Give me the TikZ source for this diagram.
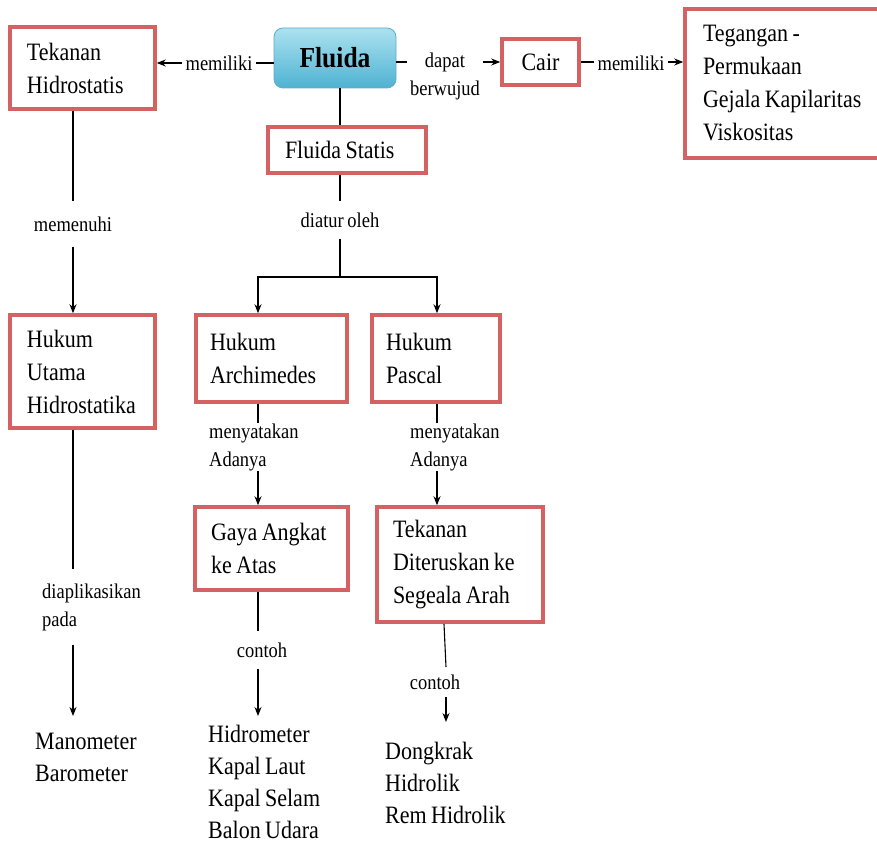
\documentclass[tikz,border=0pt]{standalone}
\usepackage{fontspec}
\setmainfont[FakeStretch=0.88,WordSpace=0.8]{Liberation Serif}
\usetikzlibrary{arrows.meta}
\definecolor{boxred}{RGB}{212,98,98}
\definecolor{fltop}{RGB}{172,226,240}
\definecolor{flbot}{RGB}{78,178,210}
\definecolor{flborder}{RGB}{96,172,202}
\begin{document}
\begin{tikzpicture}[x=1pt,y=-1pt,
  rbox/.style={draw=boxred, line width=3.5pt, fill=white, inner xsep=0pt, inner ysep=0pt, align=flush left, font=\fontsize{25}{33}\selectfont},
  plaintext/.style={inner sep=0pt, align=left, font=\fontsize{25}{32}\selectfont},
  lab/.style={inner xsep=3pt, font=\fontsize{21}{28}\selectfont},
  conn/.style={line width=1.1pt, draw=black},
  arr/.style={conn, -{Stealth[length=9pt,width=7pt]}},
]
\useasboundingbox (0,0) rectangle (877,845);
\begin{scope}
\clip (0,0) rectangle (877,845);

% ---------- boxes ----------
\node[rbox, minimum width=145pt, minimum height=82pt, text width=111pt] (tek) at (82.5,68) {Tekanan\\Hidrostatis};
\node[draw=flborder, line width=0.8pt, rounded corners=9pt, top color=fltop, bottom color=flbot,
      minimum width=122pt, minimum height=60pt, font=\fontsize{29}{33}\selectfont\bfseries] (flu) at (335,58) {Fluida};
\node[rbox, minimum width=77pt, minimum height=46pt, align=center] (cair) at (540.5,62) {Cair};
\node[rbox, minimum width=215pt, minimum height=149pt, text width=179pt] (teg) at (792.5,83.5) {Tegangan -\\Permukaan\\Gejala Kapilaritas\\Viskositas};
\node[rbox, minimum width=158pt, minimum height=46pt, text width=124pt] (fs) at (347,150) {Fluida Statis};
\node[rbox, minimum width=145pt, minimum height=113pt, text width=111pt] (hu) at (82.5,371.5) {Hukum\\Utama\\Hidrostatika};
\node[rbox, minimum width=151pt, minimum height=87pt, text width=123pt] (arch) at (271.5,358.5) {Hukum\\Archimedes};
\node[rbox, minimum width=128pt, minimum height=87pt, text width=100pt] (pas) at (436,358.5) {Hukum\\Pascal};
\node[rbox, minimum width=153pt, minimum height=83pt, text width=121pt] (gaya) at (271.5,548.5) {Gaya Angkat\\ke Atas};
\node[rbox, minimum width=166pt, minimum height=115pt, text width=134pt] (ted) at (460,564.5) {Tekanan\\Diteruskan ke\\Segeala Arah};

% ---------- plain text lists ----------
\node[plaintext, anchor=west] (mano) at (35,757) {Manometer\\Barometer};
\node[plaintext, anchor=west] (hidro) at (208,782) {Hidrometer\\Kapal Laut\\Kapal Selam\\Balon Udara};
\node[plaintext, anchor=west] (dong) at (385,783) {Dongkrak\\Hidrolik\\Rem Hidrolik};

% ---------- labels ----------
\node[lab, inner ysep=2pt] (lm1) at (219,63) {memiliki};
\node[lab, inner ysep=2pt, align=center] (ldb) at (445,76) {dapat\\berwujud};
\node[lab, inner ysep=2pt] (lm2) at (631,63) {memiliki};
\node[lab, inner ysep=15pt] (lmem) at (73,224) {memenuhi};
\node[lab, inner ysep=11pt] (ldo) at (340,220) {diatur oleh};
\node[lab, inner ysep=14pt, align=left, anchor=west] (ldp) at (39,607) {diaplikasikan\\pada};
\node[lab, inner ysep=0.5pt, align=left, anchor=west] (lna) at (206,447) {menyatakan\\Adanya};
\node[lab, inner ysep=0.5pt, align=left, anchor=west] (lnp) at (407,447) {menyatakan\\Adanya};
\node[lab, inner ysep=11pt] (lc1) at (262,650) {contoh};
\node[lab, inner ysep=8pt] (lc2) at (435,682) {contoh};

% ---------- helper coordinates ----------
\coordinate (hx) at (73,0);
\coordinate (ax) at (258,0);
\coordinate (px) at (437,0);
\coordinate (split) at (340,277);
\coordinate (tdOut) at (444,624);
\coordinate (tdMid) at (446,667);
\coordinate (tdArr) at (446,697);
\coordinate (dongTop) at (446,722);
\coordinate (manoTop) at (73,716);
\coordinate (hidroTop) at (258,716);

% ---------- top row ----------
\draw[conn] (flu.west |- lm1.east) -- (lm1.east);
\draw[arr] (lm1.west) -- (tek.east |- lm1.west);
\draw[conn] (flu.east |- cair.west) -- (ldb.west |- cair.west);
\draw[arr] (ldb.east |- cair.west) -- (cair.west);
\draw[conn] (cair.east) -- (lm2.west |- cair.east);
\draw[arr] (lm2.east |- cair.east) -- (teg.west |- cair.east);

% ---------- centre ----------
\draw[conn] (flu.south -| split) -- (fs.north -| split);
\draw[conn] (fs.south -| split) -- (ldo.north);
\draw[conn] (ldo.south) -- (split);
\draw[arr] (split) -| (arch.north -| ax);
\draw[arr] (split) -| (pas.north -| px);

% ---------- left column ----------
\draw[conn] (tek.south -| hx) -- (lmem.north);
\draw[arr] (lmem.south) -- (hu.north -| hx);
\draw[conn] (hu.south -| hx) -- (ldp.north -| hx);
\draw[arr] (ldp.south -| hx) -- (manoTop);

% ---------- Archimedes column ----------
\draw[conn] (arch.south -| ax) -- (lna.north -| ax);
\draw[arr] (lna.south -| ax) -- (gaya.north -| ax);
\draw[conn] (gaya.south -| ax) -- (lc1.north -| ax);
\draw[arr] (lc1.south -| ax) -- (hidroTop);

% ---------- Pascal column ----------
\draw[conn] (pas.south -| px) -- (lnp.north -| px);
\draw[arr] (lnp.south -| px) -- (ted.north -| px);
\draw[conn] (tdOut) -- (tdMid);
\draw[arr] (tdArr) -- (dongTop);
\end{scope}
\end{tikzpicture}
\end{document}
